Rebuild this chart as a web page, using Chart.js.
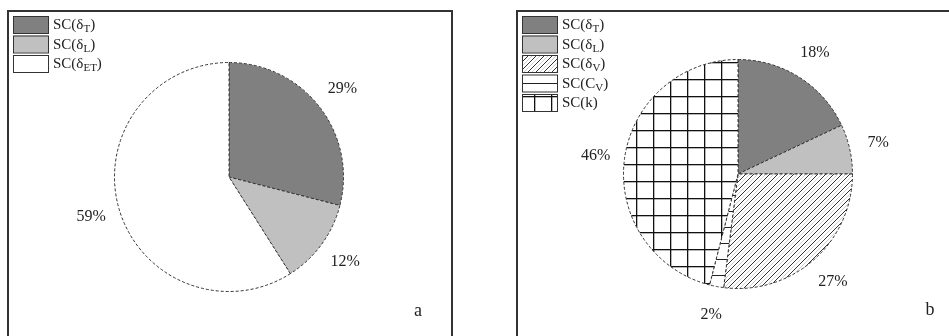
<!DOCTYPE html>
<html>
<head>
<meta charset="utf-8">
<script src="https://cdn.jsdelivr.net/npm/chart.js@4/dist/chart.umd.min.js"></script>
<style>
  body { margin: 0; background: #fff; width: 949px; height: 336px; overflow: hidden; position: relative; }
  .frame { position: absolute; border: 2px solid #333; box-sizing: border-box; }
  canvas { position: absolute; }
</style>
</head>
<body>
<div class="frame" style="left:7px; top:10px; width:446px; height:360px;"></div>
<div class="frame" style="left:516px; top:10px; width:480px; height:360px;"></div>
<canvas id="pieA" width="443" height="325" style="left:8px; top:11px;"></canvas>
<canvas id="pieB" width="432" height="325" style="left:517px; top:11px;"></canvas>
<script>
// ---------------- Data ----------------
const categoriesA = ['SC(δ_T)', 'SC(δ_L)', 'SC(δ_ET)'];
const valuesA = [29, 12, 59];

const categoriesB = ['SC(δ_T)', 'SC(δ_L)', 'SC(δ_V)', 'SC(C_V)', 'SC(k)'];
const valuesB = [18, 7, 27, 2, 46];

// ---------------- Fill patterns ----------------
function makePattern(w, h, draw) {
  const c = document.createElement('canvas');
  c.width = w; c.height = h;
  const g = c.getContext('2d');
  g.fillStyle = '#fff';
  g.fillRect(0, 0, w, h);
  draw(g);
  return g.createPattern(c, 'repeat');
}

function diag(g, n, off, colour) {
  g.strokeStyle = colour;
  g.lineWidth = 1;
  g.beginPath();
  for (let k = -1; k <= 1; k++) {
    const s = k * n + off;
    g.moveTo(s - 1, n + 1); g.lineTo(s + n + 1, -1);
  }
  g.stroke();
}

const hatch = makePattern(8, 8, g => {
  diag(g, 8, 0, '#333');
  diag(g, 8, 4, '#d0d0d0');
});

const hLines = makePattern(16, 16, g => {
  g.fillStyle = '#222';
  g.fillRect(0, 8, 16, 1);
});

const grid = makePattern(17, 17, g => {
  g.fillStyle = '#111';
  g.fillRect(0, 0, 17, 1.3);
  g.fillRect(0, 0, 1.3, 17);
});

const coloursA = ['#808080', '#c0c0c0', '#ffffff'];
const coloursB = ['#808080', '#c0c0c0', hatch, hLines, grid];

// ---------------- Labels + legend plugin ----------------
function drawSubText(ctx, text, x, y) {
  const m = text.match(/^(.*)_(\w+)(.*)$/);
  ctx.textAlign = 'left';
  ctx.textBaseline = 'alphabetic';
  ctx.font = '15px "Liberation Serif", serif';
  if (!m) { ctx.fillText(text, x, y); return; }
  ctx.fillText(m[1], x, y);
  x += ctx.measureText(m[1]).width;
  ctx.font = '11px "Liberation Serif", serif';
  ctx.fillText(m[2], x, y + 3);
  x += ctx.measureText(m[2]).width;
  ctx.font = '15px "Liberation Serif", serif';
  ctx.fillText(m[3], x, y);
}

const decoPlugin = {
  id: 'deco',
  afterDatasetsDraw(chart, args, opts) {
    const ctx = chart.ctx;
    const meta = chart.getDatasetMeta(0);
    const ds = chart.data.datasets[0];
    ctx.save();
    ctx.fillStyle = '#222';

    // percentage labels
    ctx.font = '16px "Liberation Serif", serif';
    ctx.textAlign = 'center';
    ctx.textBaseline = 'middle';
    meta.data.forEach((arc, i) => {
      const p = arc.getProps(['x', 'y', 'startAngle', 'endAngle', 'outerRadius'], true);
      const mid = (p.startAngle + p.endAngle) / 2;
      const r = p.outerRadius + 29;
      ctx.fillText(ds.data[i] + '%', p.x + Math.cos(mid) * r, p.y + Math.sin(mid) * r);
    });

    // legend
    chart.data.labels.forEach((lab, i) => {
      const top = opts.legendY + i * opts.rowH;
      ctx.fillStyle = ds.backgroundColor[i];
      ctx.fillRect(opts.legendX, top, 35, 17);
      ctx.strokeStyle = '#333';
      ctx.lineWidth = 1;
      ctx.strokeRect(opts.legendX + 0.5, top + 0.5, 35, 17);
      ctx.fillStyle = '#222';
      drawSubText(ctx, lab, opts.legendX + 40, top + 13);
    });

    // panel letter
    ctx.font = '18px "Liberation Serif", serif';
    ctx.textAlign = 'center';
    ctx.textBaseline = 'middle';
    ctx.fillText(opts.letter, opts.letterX, opts.letterY);
    ctx.restore();
  }
};

function makePie(id, labels, values, colours, padding, deco) {
  return new Chart(document.getElementById(id), {
    type: 'pie',
    data: {
      labels: labels,
      datasets: [{
        data: values,
        backgroundColor: colours,
        borderColor: '#333',
        borderWidth: 1,
        borderDash: [3, 2]
      }]
    },
    options: {
      responsive: false,
      animation: false,
      layout: { padding: padding },
      plugins: {
        legend: { display: false },
        tooltip: { enabled: false },
        deco: deco
      }
    },
    plugins: [decoPlugin]
  });
}

makePie('pieA', categoriesA, valuesA, coloursA,
  { left: 106, right: 107, top: 51, bottom: 44 },
  { legendX: 5, legendY: 5, rowH: 19.5, letter: 'a', letterX: 410, letterY: 300 });

makePie('pieB', categoriesB, valuesB, coloursB,
  { left: 106, right: 96, top: 48, bottom: 47 },
  { legendX: 5, legendY: 5, rowH: 19.5, letter: 'b', letterX: 413, letterY: 299 });
</script>
</body>
</html>
